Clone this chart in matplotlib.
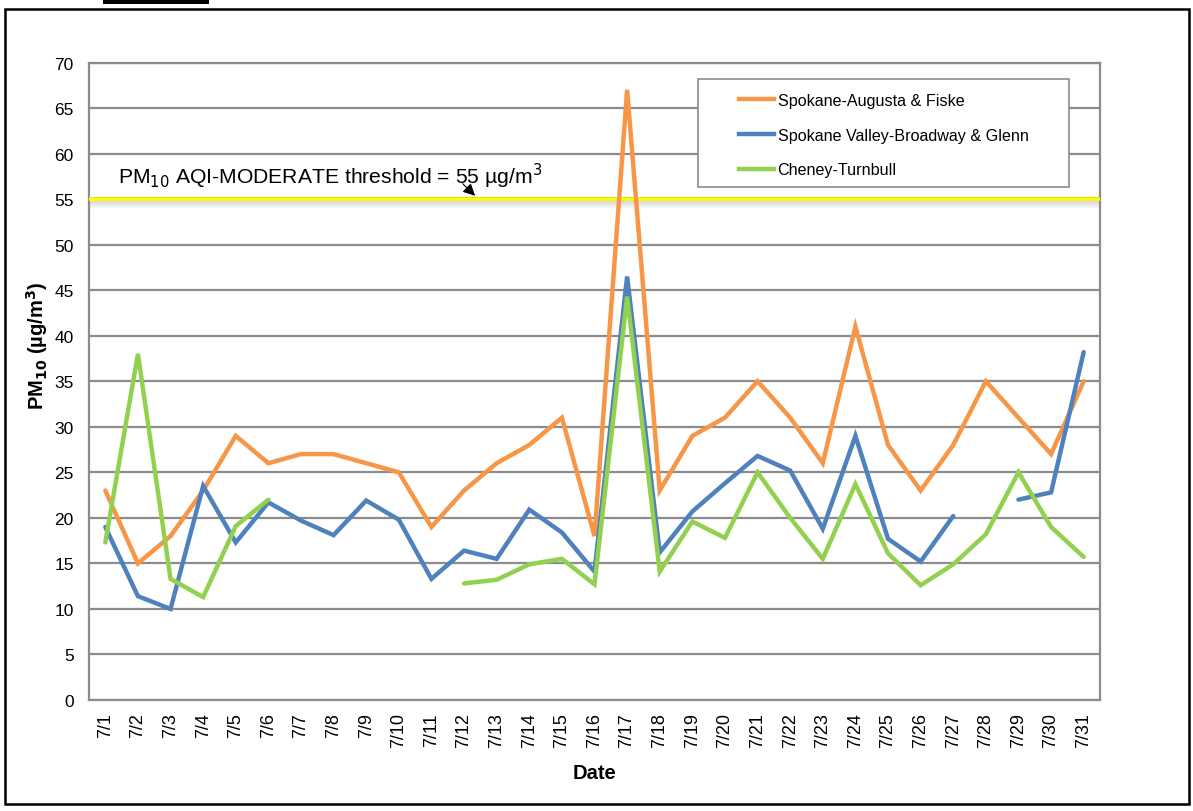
import numpy as np
import matplotlib
matplotlib.use("Agg")
from matplotlib import pyplot as plt
from matplotlib.patches import Rectangle
from matplotlib.lines import Line2D

plt.rcParams['font.family'] = ['Liberation Sans', 'DejaVu Sans']

# daily PM10 values, July
dates = ["7/" + str(d) for d in range(1, 32)]
nan = np.nan
augusta = [23, 15, 18, 23, 29, 26, 27, 27, 26, 25, 19, 23, 26, 28, 31, 18, 67,
           23, 29, 31, 35, 31, 26, 41, 28, 23, 28, 35, 31, 27, 35]
broadway = [19.0, 11.4, 10.0, 23.5, 17.3, 21.7, 19.7, 18.1, 21.9, 19.8, 13.3,
            16.4, 15.5, 20.9, 18.4, 14.1, 46.5, 16.2, 20.7, 23.8, 26.8, 25.2,
            18.8, 29.0, 17.7, 15.2, 20.2, nan, 22.0, 22.8, 38.2]
cheney = [17.3, 38.0, 13.3, 11.3, 19.1, 22.0, nan, nan, nan, nan, nan, 12.8,
          13.2, 14.9, 15.5, 12.7, 44.3, 14.1, 19.6, 17.8, 25.0, 20.0, 15.5,
          23.7, 16.1, 12.6, 14.9, 18.2, 25.0, 19.0, 15.7]
threshold = 55

names = ["Spokane-Augusta & Fiske", "Spokane Valley-Broadway & Glenn", "Cheney-Turnbull"]
colors = ["#F79646", "#4F81BD", "#92D050"]

W, H = 1193, 812
fig = plt.figure(figsize=(W / 100, H / 100), dpi=100)
ax = fig.add_axes([89 / W, 1 - 701 / H, (1100 - 89) / W, (701 - 63.5) / H])

x = np.arange(len(dates))
grid_c = "#8C8C8C"
for v in range(0, 71, 5):
    ax.axhline(v, color=grid_c, lw=1.6, zorder=1)

# shadow under the threshold line
for k in range(1, 10):
    ax.axhline(threshold - k * 0.11, color="#9A9A9A", lw=1.2, alpha=0.32 * (1 - k / 10), zorder=2)
ax.axhline(threshold, color="#FFFF00", lw=2.6, zorder=3)
ax.axhline(threshold + 0.18, color="#E0E000", lw=0.6, zorder=3)

for series, c in zip([augusta, broadway, cheney], colors):
    ax.plot(x, series, color=c, lw=3.2, solid_capstyle='round', solid_joinstyle='miter', zorder=4)

ax.set_xlim(-0.5, len(dates) - 0.5)
ax.set_ylim(0, 70)
ax.set_yticks(range(0, 71, 5))
ax.set_xticks(x)
ax.set_xticklabels(dates, rotation=90, fontsize=13)
ax.tick_params(axis='y', labelsize=12.5, length=0, pad=11)
ax.tick_params(axis='x', length=0, pad=9)
for s in ["left", "right", "top", "bottom"]:
    ax.spines[s].set_color(grid_c)
    ax.spines[s].set_linewidth(1.6)

ax.set_ylabel("PM$_{\\mathbf{10}}$ (\u00b5g/m$^{\\mathbf{3}}$)", fontsize=14.5, fontweight='bold')
ax.yaxis.set_label_coords(-0.039, 0.557)
ax.set_xlabel("Date", fontsize=14.5, fontweight='bold', va='center')
ax.xaxis.set_label_coords(0.5, -0.113)

ax.text(0.4, 57.6, "PM$_{10}$ AQI-MODERATE threshold = 55 \u00b5g/m$^3$", fontsize=15.2,
        va='center', ha='left', zorder=5)
ax.annotate("", xy=(11.4, 55.15), xytext=(10.9, 56.9),
            arrowprops=dict(arrowstyle='-|>', color='black', lw=0.8, mutation_scale=18), zorder=5)

# legend with its own frame
fig.patches.append(Rectangle((698 / W, 1 - 188 / H), (1069 - 698) / W, (188 - 80) / H,
                             transform=fig.transFigure, facecolor='white', edgecolor="#8C8C8C",
                             lw=1.2, zorder=6))
handles = [Line2D([0], [0], color=c, lw=3.2) for c in colors]
leg = fig.legend(handles, names, loc='upper left', bbox_to_anchor=(726 / W, 1 - 81 / H),
                 frameon=False, fontsize=11.6, handlelength=2.2, handletextpad=0.2,
                 labelspacing=1.22, borderpad=0.3)
leg.set_zorder(7)

# page border and the cut-off caption box at the top
fig.patches.append(Rectangle((5 / W, 1 - 805 / H), (1189 - 5) / W, (805 - 10) / H,
                             transform=fig.transFigure, facecolor='none', edgecolor='black', lw=1.8))
fig.patches.append(Rectangle((103 / W, 1 - 5 / H), (209 - 103) / W, 5 / H,
                             transform=fig.transFigure, facecolor='black', edgecolor='none'))

fig.savefig("out.png", dpi=100)
